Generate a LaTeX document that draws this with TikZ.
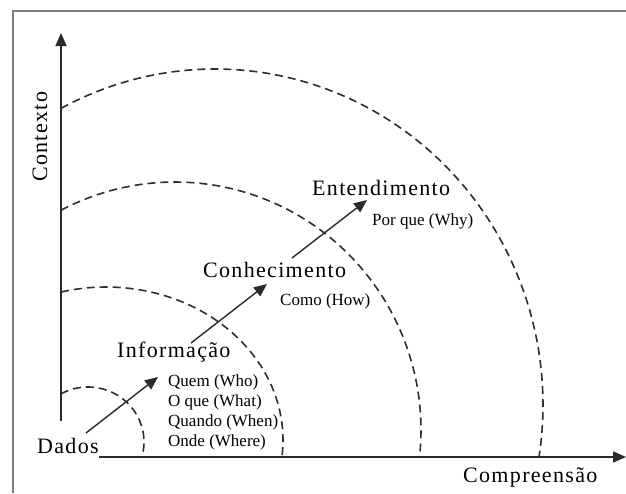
\documentclass[tikz,border=0pt]{standalone}
\usepackage{fontspec}
\setmainfont{Liberation Serif}
\newfontfamily\labelfont[LetterSpace=6]{Liberation Serif}
\usetikzlibrary{arrows.meta}
\definecolor{axisgray}{HTML}{2A2A2A}
\definecolor{framegray}{HTML}{808080}
\definecolor{dashgray}{HTML}{2E2E2E}
\tikzset{
  axis/.style={draw=axisgray, line width=1.6pt, -{Triangle[length=13pt,width=11pt]}},
  stage/.style={draw=axisgray, line width=1.4pt, -{Triangle[length=13pt,width=11pt]}},
  level/.style={draw=dashgray, line width=1.6pt, dash pattern=on 8pt off 5pt},
  bigtext/.style={inner sep=0pt, anchor=base west, font=\labelfont\fontsize{22}{26}\selectfont},
  smalltext/.style={inner sep=0pt, anchor=base west, font=\fontsize{17}{20}\selectfont},
}
\begin{document}
\begin{tikzpicture}[x=1pt,y=-1pt]
\useasboundingbox (0,0) rectangle (626,493);
\fill[white] (0,0) rectangle (626,493);
% open frame (left and top edges)
\draw[framegray, line width=2.2pt] (13,493) -- (13,11) -- (626,11);

% nested levels: elliptic arcs from the vertical axis down to the horizontal axis
\draw[level] plot[domain=118.8:-15.8, samples=50, variable=\t] ({88+56*cos(\t)},{442-55*sin(\t)});
\draw[level] plot[domain=104.7:-6.4, samples=70, variable=\t] ({106+177*cos(\t)},{440-153*sin(\t)});
\draw[level] plot[domain=117.6:-6.25, samples=90, variable=\t] ({175+246*cos(\t)},{430-248*sin(\t)});
\draw[level] plot[domain=118.0:-8.9, samples=110, variable=\t] ({215+328*cos(\t)},{405-336*sin(\t)});

% axes
\coordinate (ybot) at (61,421);
\coordinate (ytop) at (61,33);
\coordinate (xleft) at (99,457);
\coordinate (xright) at (626,457);
\draw[axis] (ybot) -- (ytop);
\draw[axis] (xleft) -- (xright);

% level labels
\node[bigtext] (dados) at (37,453) {Dados};
\node[bigtext] (info) at (117,357) {Informação};
\node[bigtext] (conh) at (203,277) {Conhecimento};
\node[bigtext] (ent) at (312,195) {Entendimento};
\node[bigtext] (comp) at (463,482) {Compreensão};
\node[bigtext, rotate=90] (ctx) at (47,182) {Contexto};

% questions per level
\node[smalltext] (quem) at (168,386) {Quem (Who)};
\node[smalltext] (oque) at (168,406) {O que (What)};
\node[smalltext] (quando) at (168,426) {Quando (When)};
\node[smalltext] (onde) at (168,446) {Onde (Where)};
\node[smalltext] (como) at (280,305) {Como (How)};
\node[smalltext] (porque) at (372,225) {Por que (Why)};

% progression arrows
\coordinate (a1s) at (86,433);
\coordinate (a1e) at (158,377);
\coordinate (a2s) at (191,343);
\coordinate (a2e) at (267,284);
\coordinate (a3s) at (292,258);
\coordinate (a3e) at (367,200);
\draw[stage] (a1s) -- (a1e);
\draw[stage] (a2s) -- (a2e);
\draw[stage] (a3s) -- (a3e);
\end{tikzpicture}
\end{document}
